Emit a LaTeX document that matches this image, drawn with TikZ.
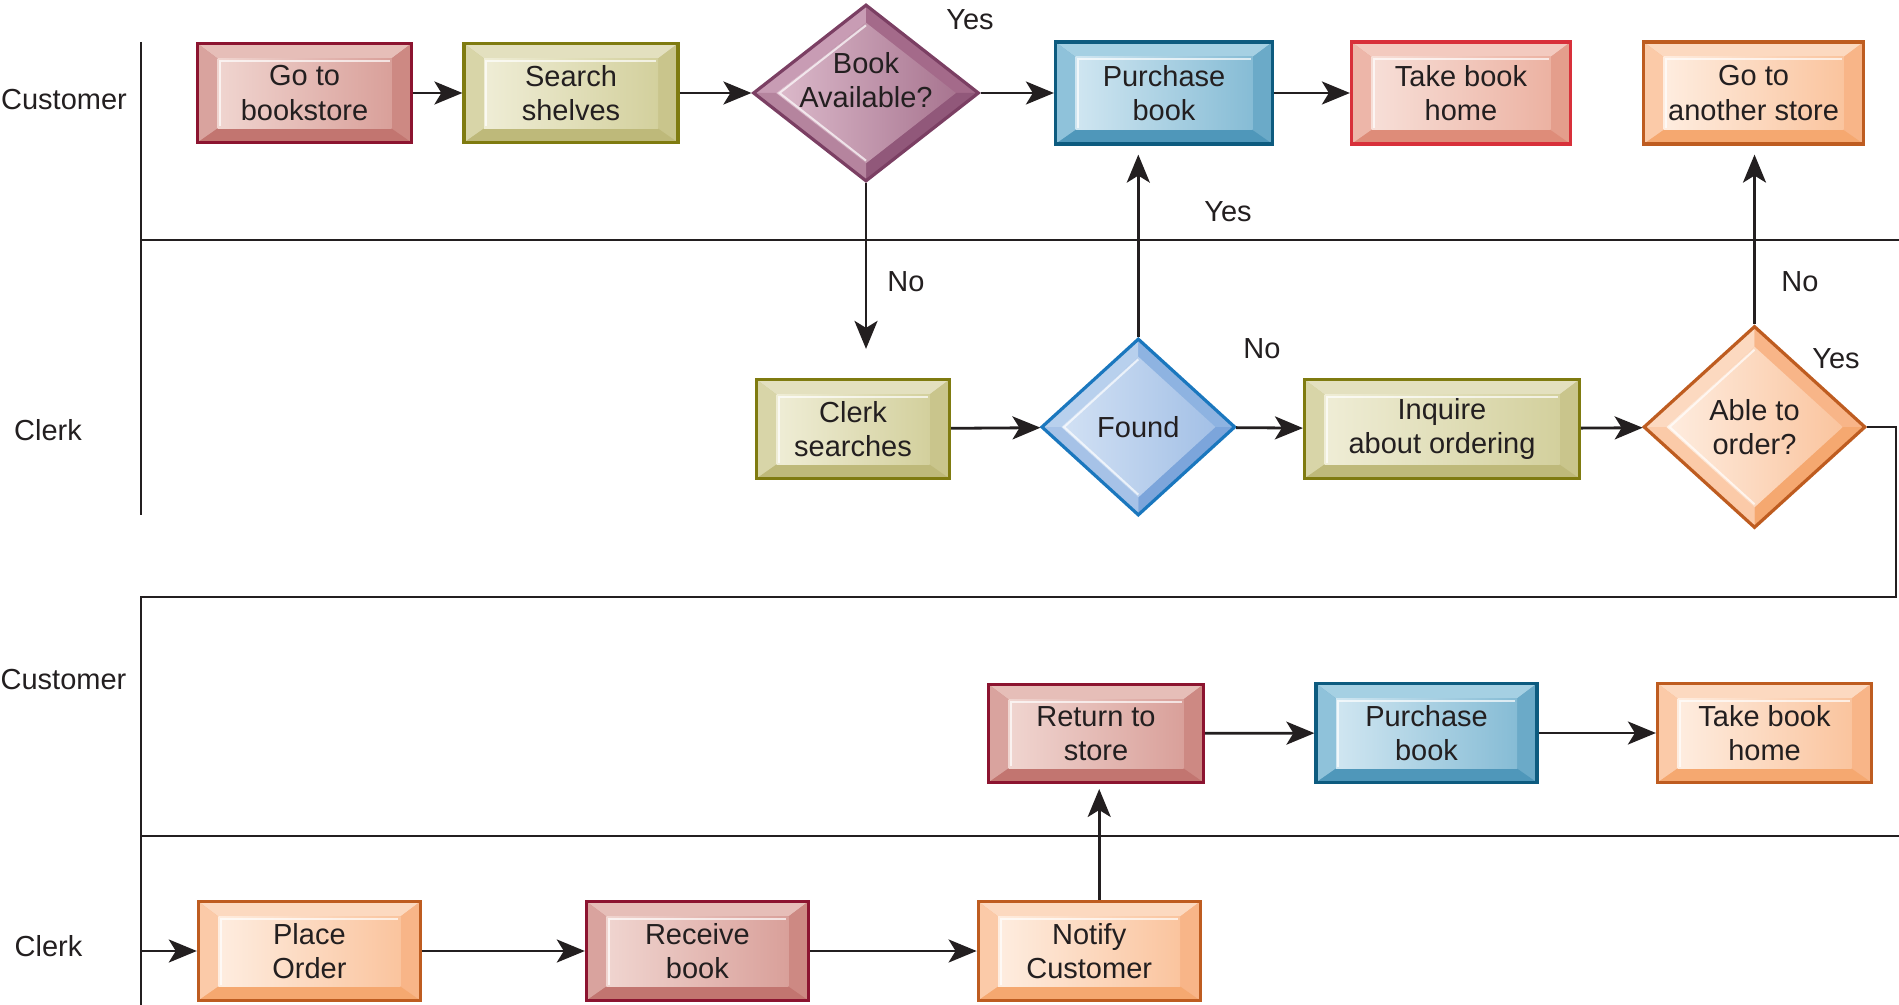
\documentclass[tikz,border=0pt]{standalone}
\usepackage{fontspec}
\setmainfont{Liberation Sans}
\usetikzlibrary{shapes.geometric,arrows.meta,calc}
\definecolor{txt}{HTML}{231F20}
\definecolor{ln}{HTML}{231F20}
% crimson
\definecolor{rdB}{HTML}{8C1430}\definecolor{rdT}{HTML}{E6BEB8}\definecolor{rdL}{HTML}{D9A39E}
\definecolor{rdR}{HTML}{CD8983}\definecolor{rdD}{HTML}{C27570}\definecolor{rdA}{HTML}{F0D5D0}\definecolor{rdZ}{HTML}{D9A09A}
% olive
\definecolor{olB}{HTML}{7F7B10}\definecolor{olT}{HTML}{E3E0BF}\definecolor{olL}{HTML}{D8D5A8}
\definecolor{olR}{HTML}{C9C58C}\definecolor{olD}{HTML}{BEB97A}\definecolor{olA}{HTML}{EFEDD6}\definecolor{olZ}{HTML}{D3D09D}
% purple
\definecolor{puB}{HTML}{7B3F63}\definecolor{puT}{HTML}{C89CB4}\definecolor{puL}{HTML}{B5849E}
\definecolor{puR}{HTML}{A46A8A}\definecolor{puD}{HTML}{91587A}\definecolor{puA}{HTML}{DCBACB}\definecolor{puZ}{HTML}{A87590}
% blue
\definecolor{blB}{HTML}{0D5B7F}\definecolor{blT}{HTML}{A5D0E3}\definecolor{blL}{HTML}{8FC2DA}
\definecolor{blR}{HTML}{6BAAC8}\definecolor{blD}{HTML}{4F97BA}\definecolor{blA}{HTML}{D0E6F1}\definecolor{blZ}{HTML}{86BCD5}
% pink
\definecolor{pkB}{HTML}{D8303A}\definecolor{pkT}{HTML}{F3CABF}\definecolor{pkL}{HTML}{EDB6A9}
\definecolor{pkR}{HTML}{E49E8C}\definecolor{pkD}{HTML}{DE8C79}\definecolor{pkA}{HTML}{F7DFD8}\definecolor{pkZ}{HTML}{ECB2A2}
% orange
\definecolor{orB}{HTML}{BE5C20}\definecolor{orT}{HTML}{FCD9C0}\definecolor{orL}{HTML}{FBCAA8}
\definecolor{orR}{HTML}{F8B588}\definecolor{orD}{HTML}{F5A870}\definecolor{orA}{HTML}{FEEDE0}\definecolor{orZ}{HTML}{FAC49E}
% light blue diamond
\definecolor{fdB}{HTML}{1A77BE}\definecolor{fdT}{HTML}{B8D0ED}\definecolor{fdL}{HTML}{A6C2E7}
\definecolor{fdR}{HTML}{8EB3E1}\definecolor{fdD}{HTML}{7CA5DB}\definecolor{fdA}{HTML}{D2E1F4}\definecolor{fdZ}{HTML}{A3C0E6}

\newcommand\bxfont{\fontsize{14.5}{17.2}\selectfont}

\tikzset{
  bbox/.style={rectangle, draw=#1B, line width=1.6pt, fill=#1R, inner sep=0pt,
    align=center, font=\bxfont, text=txt,
    path picture={
      \coordinate (pSW) at (path picture bounding box.south west);
      \coordinate (pNE) at (path picture bounding box.north east);
      \coordinate (pNW) at (path picture bounding box.north west);
      \coordinate (pSE) at (path picture bounding box.south east);
      \coordinate (iSW) at ([xshift=10pt,yshift=7pt]pSW);
      \coordinate (iNE) at ([xshift=-10pt,yshift=-7.5pt]pNE);
      \coordinate (iNW) at (iSW |- iNE);
      \coordinate (iSE) at (iNE |- iSW);
      \fill[#1T] (pNW) -- (pNE) -- (iNE) -- (iNW) -- cycle;
      \fill[#1L] (pNW) -- (iNW) -- (iSW) -- (pSW) -- cycle;
      \fill[#1R] (pNE) -- (pSE) -- (iSE) -- (iNE) -- cycle;
      \fill[#1D] (pSW) -- (iSW) -- (iSE) -- (pSE) -- cycle;
      \shade[left color=#1A, right color=#1Z] (iSW) rectangle (iNE);
      \draw[white, opacity=0.7, line width=1pt]
        ([xshift=1.2pt,yshift=1pt]iSW) |- ([xshift=-1pt,yshift=-1.2pt]iNE);
    }},
  bdia/.style={diamond, draw=#1B, line width=1.6pt, fill=#1R, inner sep=0pt,
    align=center, font=\bxfont, text=txt,
    path picture={
      \coordinate (pC) at (path picture bounding box.center);
      \coordinate (pN) at (path picture bounding box.north);
      \coordinate (pE) at (path picture bounding box.east);
      \coordinate (pS) at (path picture bounding box.south);
      \coordinate (pW) at (path picture bounding box.west);
      \coordinate (qN) at ($(pC)!0.8!(pN)$);
      \coordinate (qE) at ($(pC)!0.8!(pE)$);
      \coordinate (qS) at ($(pC)!0.8!(pS)$);
      \coordinate (qW) at ($(pC)!0.8!(pW)$);
      \fill[#1T] (pW) -- (pN) -- (qN) -- (qW) -- cycle;
      \fill[#1R] (pN) -- (pE) -- (qE) -- (qN) -- cycle;
      \fill[#1D] (pE) -- (pS) -- (qS) -- (qE) -- cycle;
      \fill[#1L] (pS) -- (pW) -- (qW) -- (qS) -- cycle;
      \shade[left color=#1A, right color=#1Z] (qN) -- (qE) -- (qS) -- (qW) -- cycle;
      \draw[white, opacity=0.7, line width=1pt]
        ($(pC)!0.77!(pN)$) -- ($(pC)!0.77!(pW)$) -- ($(pC)!0.77!(pS)$);
    }},
  arr/.style={draw=ln, line width=1.4pt, -{Stealth[length=14pt,width=11.5pt,inset=3.5pt]}},
  lane/.style={draw=ln, line width=1.4pt},
  lbl/.style={font=\bxfont, text=txt, inner sep=0pt},
}

\begin{document}
\begin{tikzpicture}[x=0.5pt,y=-0.5pt]
\useasboundingbox (0,0) rectangle (1899,1005);

% swim lane lines
\draw[lane] (141,42) -- (141,515);
\draw[lane] (141,240) -- (1899,240);
\draw[lane] (141,836) -- (1899,836);

% lane labels
\node[lbl] (lc1) at (64,100) {Customer};
\node[lbl] (lk1) at (48,430) {Clerk};
\node[lbl] (lc2) at (63.5,680) {Customer};
\node[lbl] (lk2) at (48.5,946) {Clerk};

% top row
\node[bbox=rd, minimum width=107pt, minimum height=49.5pt] (gotob) at (304.5,93) {Go to\\bookstore};
\node[bbox=ol, minimum width=107pt, minimum height=49.5pt] (search) at (571,93) {Search\\shelves};
\node[bdia=pu, minimum width=113pt, minimum height=88.5pt] (bookav) at (866,93) {};
\node[lbl, align=center] (bookavt) at ([yshift=6.5pt]bookav.center) {Book\\Available?};
\node[bbox=bl, minimum width=108.5pt, minimum height=51pt] (purch1) at (1164,93) {Purchase\\book};
\node[bbox=pk, minimum width=109.5pt, minimum height=51pt] (take1) at (1461,93) {Take book\\home};
\node[bbox=or, minimum width=110pt, minimum height=51pt] (another) at (1753.6,93) {Go to\\another store};

% middle row
\node[bbox=ol, minimum width=96.5pt, minimum height=49.5pt] (clerks) at (853,429) {Clerk\\searches};
\node[bdia=fd, minimum width=97pt, minimum height=88.5pt] (found) at (1138.3,427) {Found};
\node[bbox=ol, minimum width=137.5pt, minimum height=49.5pt] (inquire) at (1442,429) {Inquire\\about ordering};
\node[bdia=or, minimum width=111pt, minimum height=101pt] (able) at (1754.5,427) {Able to\\order?};

% lower customer row
\node[bbox=rd, minimum width=107.5pt, minimum height=49pt] (ret) at (1096,733.4) {Return to\\store};
\node[bbox=bl, minimum width=110.5pt, minimum height=49.5pt] (purch2) at (1426.5,733) {Purchase\\book};
\node[bbox=or, minimum width=107pt, minimum height=49.5pt] (take2) at (1764.5,733) {Take book\\home};

% lower clerk row
\node[bbox=or, minimum width=111pt, minimum height=49.5pt] (place) at (309.4,951) {Place\\Order};
\node[bbox=rd, minimum width=111pt, minimum height=49.5pt] (receive) at (697.4,951) {Receive\\book};
\node[bbox=or, minimum width=111pt, minimum height=49.5pt] (notify) at (1089.2,951) {Notify\\Customer};

% connectors top row
\draw[arr] (gotob) -- (search);
\draw[arr] (search) -- (bookav);
\draw[arr] (bookav) -- (purch1);
\draw[arr] (purch1) -- (take1);

% vertical connectors
\draw[arr, shorten >=14.5pt] (bookav.south) -- (bookav.south |- clerks.north);
\draw[arr, shorten >=4.5pt] (found.north) -- (found.north |- purch1.south);
\draw[arr, shorten >=4.5pt] (able.north) -- (able.north |- another.south);

% middle row
\draw[arr] (clerks) -- (found);
\draw[arr] (found) -- (inquire);
\draw[arr] (inquire) -- (able);

% loop from able to place order
\coordinate (c1) at (1896,597);
\coordinate (c2) at (141,597);
\draw[arr] (able.east) -| (c1) -- (c2) |- (place.west);
\draw[lane] (c2 |- place.west) -- (141,1005);

% bottom rows
\draw[arr] (place) -- (receive);
\draw[arr] (receive) -- (notify);
\draw[arr, shorten >=2.5pt] ([xshift=5pt]notify.north) -- ([xshift=5pt]notify.north |- ret.south);
\draw[arr] (ret) -- (purch2);
\draw[arr] (purch2) -- (take2);

% branch labels
\node[lbl] (yes1) at (970,20) {Yes};
\node[lbl] (no1) at (906,282) {No};
\node[lbl] (yes2) at (1228,212) {Yes};
\node[lbl] (no2) at (1262,349) {No};
\node[lbl] (no3) at (1800,282) {No};
\node[lbl] (yes3) at (1836,359) {Yes};
\end{tikzpicture}
\end{document}
